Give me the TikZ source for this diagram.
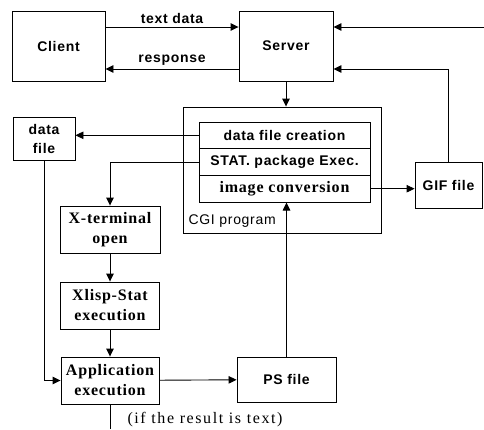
\documentclass[tikz,border=0pt]{standalone}
\usepackage{fontspec}
\setmainfont{Liberation Serif}[LetterSpace=10]
\newfontfamily\serifb{Liberation Serif}[LetterSpace=5]
\newfontfamily\sansfont{Liberation Sans}[LetterSpace=5]
\usepackage{tikz}
\usetikzlibrary{shapes,arrows,arrows.meta}
\tikzstyle{block} = [draw, line width=0.9pt, inner sep=0pt, align=center]
\tikzstyle{sblock} = [block, font=\sansfont\bfseries\fontsize{14}{19}\selectfont]
\tikzstyle{rblock} = [block, font=\serifb\bfseries\fontsize{16}{20}\selectfont]
\tikzstyle{line} = [line width=0.9pt, -{Triangle[length=8pt,width=7.5pt]}]
\tikzstyle{lbl} = [font=\sansfont\bfseries\fontsize{14}{16}\selectfont]

\begin{document}
\begin{tikzpicture}[x=1pt, y=-1pt]
		\useasboundingbox (0,0) rectangle (484,429);
		
		\node [sblock, minimum width=93pt, minimum height=70pt] (client) at (58.5,46) {Client};
		\node [sblock, minimum width=94pt, minimum height=70pt] (server) at (286,46) {Server};
		
		\node [block, minimum width=198pt, minimum height=126pt] (cgi) at (282,170) {};
		\node [anchor=west, font=\sansfont\fontsize{14}{16}\selectfont] (cgilabel) at (185,221) {CGI program};
		\node [sblock, minimum width=171pt, minimum height=26.7pt] (creation) at (284.5,135.3) {data file creation};
		\node [sblock, minimum width=171pt, minimum height=26.7pt, below of=creation, node distance=26.7pt] (stat) {STAT. package Exec.};
		\node [rblock, minimum width=171pt, minimum height=26.7pt, below of=stat, node distance=26.7pt] (conv) {image conversion};
		
		\node [sblock, minimum width=62pt, minimum height=43pt] (datafile) at (44,138.5) {data\\file};
		\node [sblock, minimum width=67pt, minimum height=46pt] (gif) at (448.5,185) {GIF file};
		
		\node [rblock, minimum width=100pt, minimum height=47pt] (xterm) at (110,229.5) {X-terminal\\open};
		\node [rblock, minimum width=99pt, minimum height=47pt, below of=xterm, node distance=76pt] (xlisp) {Xlisp-Stat\\execution};
		\node [rblock, minimum width=98pt, minimum height=47pt, below of=xlisp, node distance=75pt] (app) {Application\\execution};
		\node [sblock, minimum width=99pt, minimum height=45pt] (ps) at (286.5,379.5) {PS file};
		
		\coordinate (feed) at (484,27);
		\coordinate (out) at (app.south |- 0,429);
		
		\draw [line] ([yshift=19pt]client.east) -- node[lbl, above] (txt) {text data} ([yshift=19pt]server.west);
		\draw [line] ([yshift=-23pt]server.west) -- node[lbl, above] (resp) {response} ([yshift=-23pt]client.east);
		\draw [line] (feed) -- ([yshift=19pt]server.east);
		\draw [line] (gif.north) |- ([yshift=-23pt]server.east);
		\draw [line] (server.south) -- (server.south |- cgi.north);
		\draw [line] (creation.west) -- (creation.west -| datafile.east);
		\draw [line] (stat.west) -| (xterm.north);
		\draw [line] (conv.east) -- (conv.east -| gif.west);
		\draw [line] (xterm) -- (xlisp);
		\draw [line] (xlisp) -- (app);
		\draw [line] (datafile.south) |- (app.west);
		\draw [line] (app) -- (ps);
		\draw [line] (ps.north) -- (ps.north |- conv.south);
		\draw [line width=0.9pt] (app.south) -- (out);
		
		\node [anchor=west, font=\fontsize{16}{18}\selectfont] (cond) at (124,420) {(if the result is text)};
		
		\end{tikzpicture}
\end{document}
